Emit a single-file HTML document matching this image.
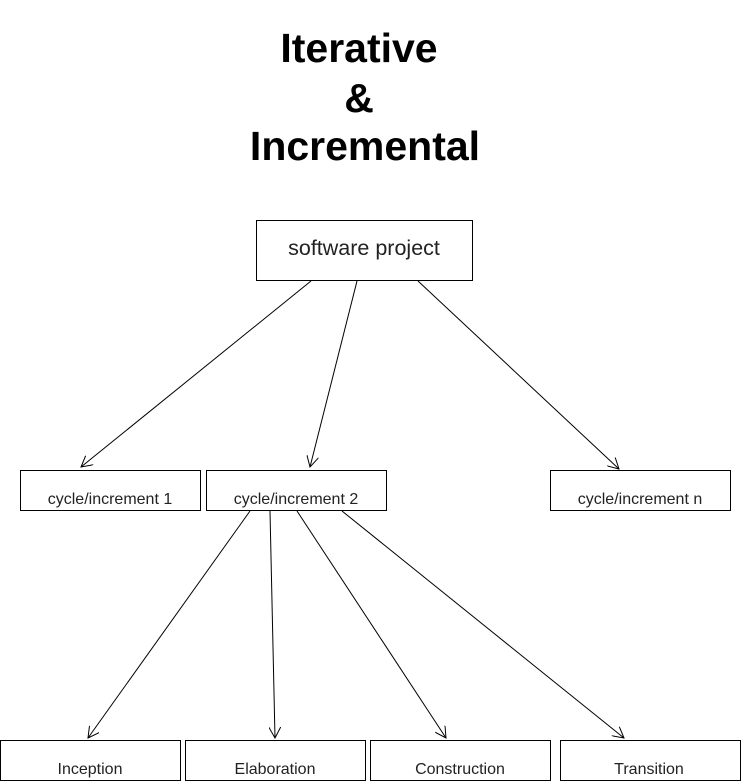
<!DOCTYPE html>
<html><head><style>
body{margin:0;background:#fff;width:742px;height:784px;overflow:hidden;font-family:"Liberation Sans",sans-serif}
.t{position:absolute;left:165px;width:400px;text-align:center;font-weight:bold;font-size:41px;color:#000;line-height:1}
</style></head><body>
<div class="t" style="top:28px;left:159px">Iterative</div>
<div class="t" style="top:78px;left:159px">&amp;</div>
<div class="t" style="top:126px">Incremental</div>
<svg width="742" height="784" style="position:absolute;left:0;top:0" font-family="Liberation Sans, sans-serif">
<defs><marker id="a" markerWidth="12" markerHeight="12" refX="11" refY="6" orient="auto" markerUnits="userSpaceOnUse"><path d="M0,0 L11,6 L0,12" fill="none" stroke="#000"/></marker></defs>
<g fill="none" stroke="#000" stroke-width="1">
<rect x="256.5" y="220.5" width="216" height="60"/>
<rect x="20.5" y="470.5" width="180" height="40"/>
<rect x="206.5" y="470.5" width="180" height="40"/>
<rect x="550.5" y="470.5" width="180" height="40"/>
<rect x="0.5" y="740.5" width="180" height="40"/>
<rect x="185.5" y="740.5" width="180" height="40"/>
<rect x="370.5" y="740.5" width="180" height="40"/>
<rect x="560.5" y="740.5" width="180" height="40"/>
<g marker-end="url(#a)">
<line x1="311" y1="281" x2="81" y2="467"/>
<line x1="357" y1="281" x2="310" y2="467"/>
<line x1="418" y1="281" x2="619" y2="469"/>
<line x1="250" y1="511" x2="88" y2="738"/>
<line x1="270" y1="511" x2="275" y2="738"/>
<line x1="297" y1="511" x2="446" y2="738"/>
<line x1="342" y1="511" x2="624" y2="738"/>
</g></g>
<g font-size="16" text-anchor="middle" fill="#222">
<text x="364" y="255" font-size="21.5">software project</text>
<text x="110" y="504">cycle/increment 1</text>
<text x="296" y="504">cycle/increment 2</text>
<text x="640" y="504">cycle/increment n</text>
<text x="90" y="774">Inception</text>
<text x="275" y="774">Elaboration</text>
<text x="460" y="774">Construction</text>
<text x="649" y="774">Transition</text>
</g>
</svg>
</body></html>
